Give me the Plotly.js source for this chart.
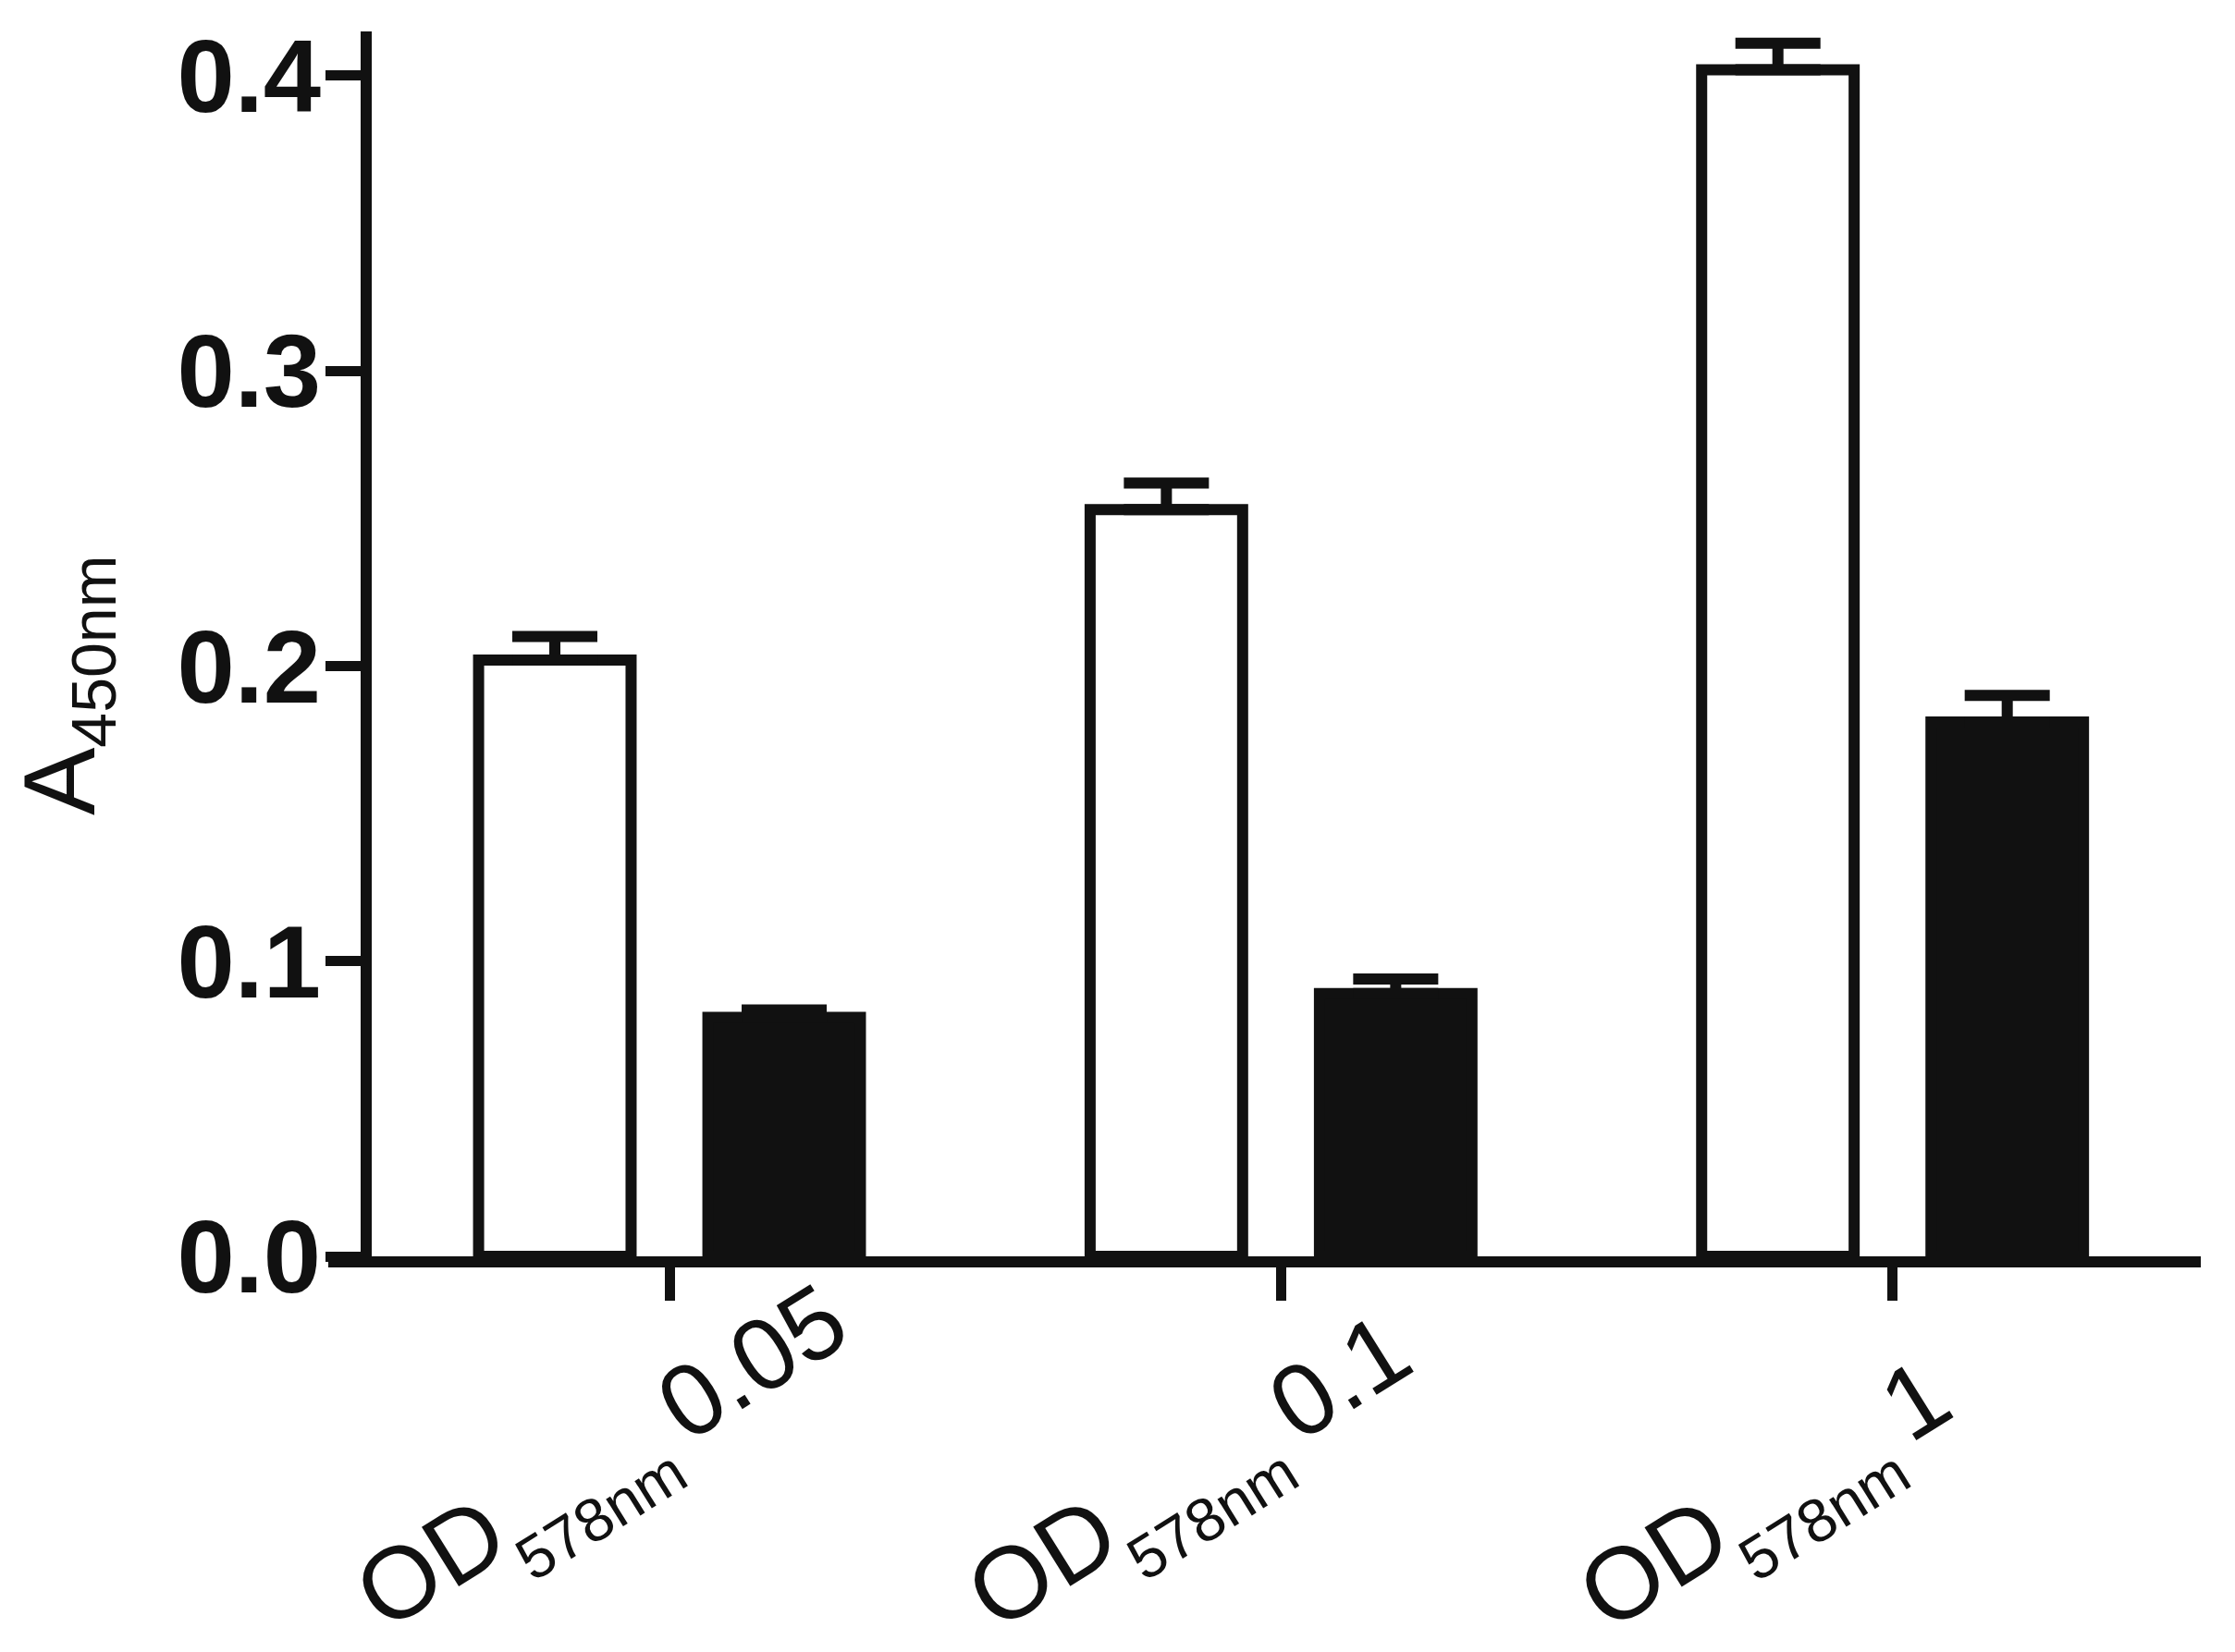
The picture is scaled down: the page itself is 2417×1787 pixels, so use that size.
<!DOCTYPE html>
<html>
<head>
<meta charset="utf-8">
<script src="https://cdn.plot.ly/plotly-3.0.1.min.js"></script>
<style>html,body{margin:0;padding:0;background:#fff;}</style>
</head>
<body>
<div id="chart" style="width:2417px;height:1787px;"></div>
<script>
// ---- data ----
const categories = ["OD578nm 0.05", "OD578nm 0.1", "OD578nm 1"];
const categoryLabels = ["0.05", "0.1", "1"];
const whiteValues = [0.202, 0.253, 0.402];
const whiteErrors = [0.008, 0.009, 0.009];
const blackValues = [0.081, 0.089, 0.181];
const blackErrors = [0.0025, 0.005, 0.009];
const yTicks = [0, 0.1, 0.2, 0.3, 0.4];

const ink = "#111111";
const zeros = categories.map(() => 0);

const traces = [
  {
    type: "bar", x: categories, y: whiteValues,
    marker: {color: "#ffffff", line: {color: ink, width: 12}},
    error_y: {type: "data", array: whiteErrors, arrayminus: zeros, symmetric: false,
              color: ink, thickness: 12, width: 46},
    showlegend: false, hoverinfo: "skip"
  },
  {
    type: "bar", x: categories, y: blackValues,
    marker: {color: ink, line: {color: ink, width: 12}},
    error_y: {type: "data", array: blackErrors, arrayminus: zeros, symmetric: false,
              color: ink, thickness: 12, width: 46},
    showlegend: false, hoverinfo: "skip"
  }
];

const xAnn = categories.map((c, i) => ({
  xref: "x", yref: "paper", x: c, y: 0,
  xanchor: "left", yanchor: "bottom",
  xshift: -364, yshift: -455,
  textangle: -32, showarrow: false,
  text: 'OD<sub><sub><span style="font-size:66px">578nm\u00A0</span></sub></sub>' + categoryLabels[i],
  font: {family: "Liberation Sans, Arial, sans-serif", size: 110, color: ink}
}));

const layout = {
  width: 2417, height: 1787,
  paper_bgcolor: "#ffffff", plot_bgcolor: "#ffffff",
  margin: {l: 355, r: 37, t: 34, b: 428, pad: 0},
  barmode: "group", bargap: 0.25, bargroupgap: 0.335,
  xaxis: {
    type: "category", range: [-0.558, 2.504],
    showline: true, linecolor: ink, linewidth: 12,
    ticks: "outside", ticklen: 36, tickwidth: 11, tickcolor: ink,
    showticklabels: false, showgrid: false, zeroline: false, fixedrange: true
  },
  yaxis: {
    range: [0, 0.415], anchor: "free", position: 0.0200,
    showline: true, linecolor: ink, linewidth: 12,
    ticks: "outside", ticklen: 38, tickwidth: 11, tickcolor: ink,
    ticklabelstandoff: -18,
    tickmode: "array", tickvals: yTicks, tickformat: ".1f",
    tickfont: {family: "Liberation Sans, Arial, sans-serif", size: 112, color: ink, weight: "bold"},
    showgrid: false, zeroline: false, fixedrange: true
  },
  annotations: xAnn.concat([{
    xref: "paper", yref: "paper", x: 0, y: 0,
    xanchor: "center", yanchor: "middle",
    xshift: 70 - 355, yshift: 1357 - 740,
    textangle: -90, showarrow: false,
    text: 'A<sub><span style="font-size:68px">450nm</span></sub>',
    font: {family: "Liberation Sans, Arial, sans-serif", size: 110, color: ink}
  }])
};

Plotly.newPlot("chart", traces, layout, {displayModeBar: false, staticPlot: true});
</script>
</body>
</html>
